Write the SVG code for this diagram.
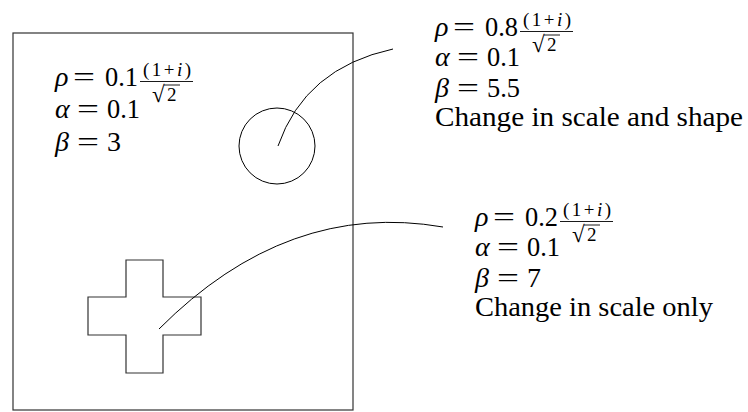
<svg xmlns="http://www.w3.org/2000/svg" width="748" height="412" viewBox="0 0 748 412">
<style>
.t{font-family:"Liberation Serif","Times New Roman",serif;font-size:28px;fill:#000}
.it{font-family:"Liberation Serif","Times New Roman",serif;font-size:28px;font-style:italic;fill:#000}
.s{font-family:"Liberation Serif","Times New Roman",serif;font-size:19px;fill:#000}
.si{font-family:"Liberation Serif","Times New Roman",serif;font-size:19px;font-style:italic;fill:#000}
.rad{font-family:"Liberation Serif","Times New Roman",serif;font-size:23px;fill:#000}
.shape{fill:none;stroke:#333;stroke-width:1.2}
.thin{fill:none;stroke:#000;stroke-width:1}
.bar{stroke:#000;stroke-width:0.9}
</style>
<rect width="748" height="412" fill="#fff"/>
<g id="frame"><rect class="shape" x="13" y="33" width="340" height="377"/></g>
<g id="circle-node"><circle class="thin" cx="277" cy="146" r="38"/></g>
<g id="cross-node"><polygon class="shape" points="126,260 163,260 163,297 201,297 201,335 163,335 163,373 126,373 126,335 88,335 88,297 126,297"/></g>

<g id="label-frame">
<text class="it" x="55" y="86">ρ</text>
<text class="t" x="73" y="86" textLength="22" lengthAdjust="spacingAndGlyphs">=</text>
<text class="t" x="105" y="86" textLength="33" lengthAdjust="spacingAndGlyphs">0.1</text>
<text class="s" x="167" y="76" text-anchor="middle" textLength="48" lengthAdjust="spacing">(1+<tspan class="si">i</tspan>)</text>
<line class="bar" x1="140" y1="81.5" x2="193" y2="81.5"/>
<text class="rad" x="152" y="102">√</text>
<line class="bar" x1="164" y1="85" x2="180" y2="85"/>
<text class="s" x="167" y="101">2</text>
<text class="it" x="55" y="118">α</text>
<text class="t" x="77" y="118" textLength="22" lengthAdjust="spacingAndGlyphs">=</text>
<text class="t" x="107" y="118" textLength="33" lengthAdjust="spacingAndGlyphs">0.1</text>
<text class="it" x="55" y="151">β</text>
<text class="t" x="77" y="151" textLength="22" lengthAdjust="spacingAndGlyphs">=</text>
<text class="t" x="107" y="151">3</text>
</g>

<g id="label-circle">
<text class="it" x="435" y="36">ρ</text>
<text class="t" x="453" y="36" textLength="22" lengthAdjust="spacingAndGlyphs">=</text>
<text class="t" x="485" y="36" textLength="33" lengthAdjust="spacingAndGlyphs">0.8</text>
<text class="s" x="547" y="26" text-anchor="middle" textLength="48" lengthAdjust="spacing">(1+<tspan class="si">i</tspan>)</text>
<line class="bar" x1="520" y1="31.5" x2="573" y2="31.5"/>
<text class="rad" x="532" y="52">√</text>
<line class="bar" x1="544" y1="35" x2="560" y2="35"/>
<text class="s" x="547" y="51">2</text>
<text class="it" x="435" y="66">α</text>
<text class="t" x="457" y="66" textLength="22" lengthAdjust="spacingAndGlyphs">=</text>
<text class="t" x="487" y="66" textLength="33" lengthAdjust="spacingAndGlyphs">0.1</text>
<text class="it" x="435" y="97">β</text>
<text class="t" x="457" y="97" textLength="22" lengthAdjust="spacingAndGlyphs">=</text>
<text class="t" x="487" y="97" textLength="33" lengthAdjust="spacingAndGlyphs">5.5</text>
<text class="t" x="435" y="126" textLength="308" lengthAdjust="spacingAndGlyphs">Change in scale and shape</text>
</g>

<g id="label-cross">
<text class="it" x="475" y="226">ρ</text>
<text class="t" x="493" y="226" textLength="22" lengthAdjust="spacingAndGlyphs">=</text>
<text class="t" x="525" y="226" textLength="33" lengthAdjust="spacingAndGlyphs">0.2</text>
<text class="s" x="587" y="216" text-anchor="middle" textLength="48" lengthAdjust="spacing">(1+<tspan class="si">i</tspan>)</text>
<line class="bar" x1="560" y1="221.5" x2="613" y2="221.5"/>
<text class="rad" x="572" y="242">√</text>
<line class="bar" x1="584" y1="225" x2="600" y2="225"/>
<text class="s" x="587" y="241">2</text>
<text class="it" x="475" y="256">α</text>
<text class="t" x="497" y="256" textLength="22" lengthAdjust="spacingAndGlyphs">=</text>
<text class="t" x="527" y="256" textLength="33" lengthAdjust="spacingAndGlyphs">0.1</text>
<text class="it" x="475" y="287">β</text>
<text class="t" x="497" y="287" textLength="22" lengthAdjust="spacingAndGlyphs">=</text>
<text class="t" x="527" y="287">7</text>
<text class="t" x="475" y="316" textLength="238" lengthAdjust="spacingAndGlyphs">Change in scale only</text>
</g>

<g id="connectors">
<path class="thin" d="M278,146 Q305,68 393,49"/>
<path class="thin" d="M159,329 Q287.5,200 443,227"/>
</g>
</svg>
